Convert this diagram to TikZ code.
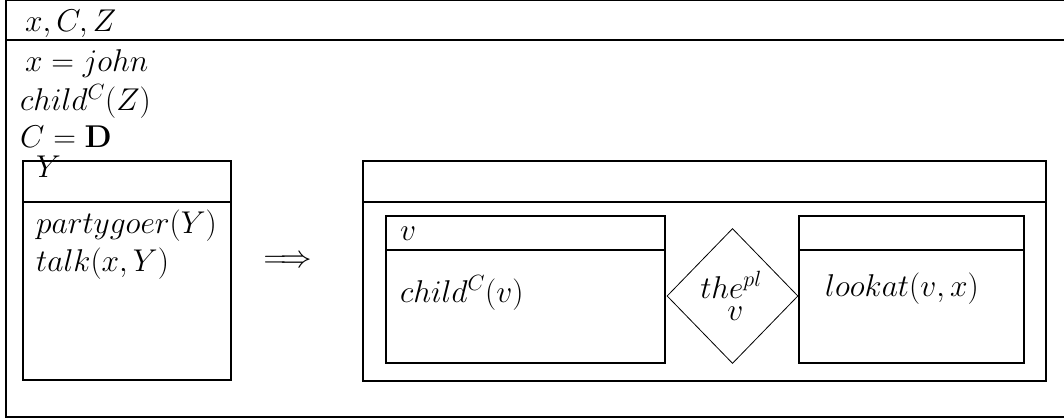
\RequirePackage{fix-cm}
\documentclass[tikz,border=0pt]{standalone}
\usetikzlibrary{shapes.geometric}
\newcommand\drsfont{\fontsize{31.5}{38}\selectfont}
\tikzset{
  lbl/.style={anchor=base west, inner sep=0pt, font=\drsfont},
  boxline/.style={line width=2pt},
  sepline/.style={line width=1.3pt},
  outline/.style={line width=2.6pt},
}
\begin{document}
\begin{tikzpicture}[x=1pt,y=-1pt]
\useasboundingbox (0,0) rectangle (1064,419);
% outer box
\draw[line width=1pt] (5,0.8) -- (1070,0.8);
\draw[line width=2pt] (6,0) -- (6,417);
\draw[outline] (5,40) -- (1070,40);
\draw[outline] (5,417) -- (1070,417);
\node[lbl] (xcz) at (25,32) {$x, C, Z$};
\node[lbl] (c1) at (25,72) {$x = john$};
\node[lbl] (c2) at (20,111) {$child^C(Z)$};
\node[lbl] (c3) at (20,148) {$C = \mathbf{D}$};
% Y box
\draw[boxline] (23,161) rectangle (231,380);
\draw[sepline] (23,202) -- (231,202);
\node[lbl] (yref) at (36,178) {$Y$};
\node[lbl] (y1) at (36,234) {$partygoer(Y)$};
\node[lbl] (y2) at (36,272) {$talk(x,Y)$};
% arrow
\node[inner sep=0pt, font=\drsfont] (imp) at (288,262) {$\Longrightarrow$};
% big box
\draw[boxline] (363,161) rectangle (1046,381);
\draw[sepline] (363,202) -- (1046,202);
% v box
\draw[boxline] (386,216) rectangle (665,363);
\draw[sepline] (386,250) -- (665,250);
\node[lbl] (vref) at (400,241) {$v$};
\node[lbl] (v1) at (400,302) {$child^C(v)$};
% diamond
\node[diamond, draw, line width=0.8pt, inner sep=0pt, minimum width=131pt, minimum height=135pt] (dia) at (732.5,296) {};
\node[inner sep=0pt, anchor=base, align=center, font=\fontsize{31.5}{22}\selectfont] (the) at (731,320) {$the^{pl}$\\$\;v$};
% right box
\draw[boxline] (799,216) rectangle (1024,363);
\draw[sepline] (799,250) -- (1024,250);
\node[lbl] (r1) at (825,297) {$lookat(v,x)$};
\end{tikzpicture}
\end{document}
